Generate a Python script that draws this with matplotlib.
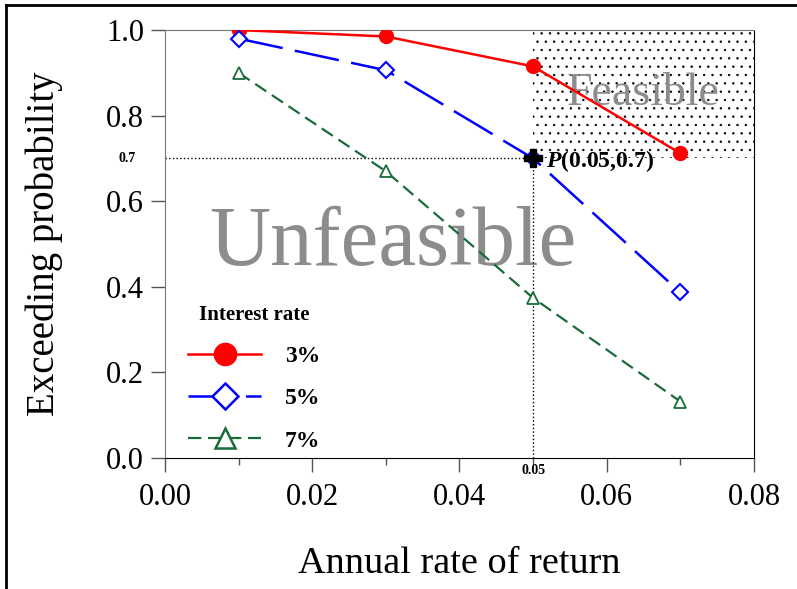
import numpy as np
import matplotlib
matplotlib.use("Agg")
import matplotlib.pyplot as plt
from matplotlib.lines import Line2D

plt.rcParams['font.family'] = ['Liberation Serif', 'DejaVu Serif']
plt.rcParams['mathtext.fontset'] = 'custom'
plt.rcParams['mathtext.rm'] = 'Liberation Serif'
plt.rcParams['mathtext.it'] = 'Liberation Serif:italic:bold'
plt.rcParams['mathtext.bf'] = 'Liberation Serif:bold'
plt.rcParams['hatch.linewidth'] = 0.5

# data
annual_return = [0.01, 0.03, 0.05, 0.07]
prob_3 = [1.0, 0.985, 0.915, 0.712]
prob_5 = [0.98, 0.906, 0.70, 0.387]
prob_7 = [0.90, 0.67, 0.374, 0.132]
labels = ['3%', '5%', '7%']
xticks = [0.00, 0.02, 0.04, 0.06, 0.08]
yticks = [0.0, 0.2, 0.4, 0.6, 0.8, 1.0]
target_x = 0.05
target_y = 0.7

fig = plt.figure(figsize=(7.97, 5.89), dpi=100)
ax = fig.add_axes([0.207, 0.2224, 0.739, 0.7266])

# feasible region
ax.fill_between([target_x, 0.08], target_y, 1.0, facecolor='white',
                edgecolor='black', hatch='..', linewidth=0, zorder=0)

ax.text(0.0650, 0.85, 'Feasible', color='#8c8c8c', fontsize=33,
        ha='center', va='center', zorder=1)
ax.text(0.0310, 0.50, 'Unfeasible', color='#8c8c8c', fontsize=61,
        ha='center', va='center', zorder=1)

# guide lines
ax.plot([0, target_x], [target_y, target_y], color='black', ls=':', lw=1, zorder=2)
ax.plot([target_x, target_x], [0, target_y], color='black', ls=':', lw=1, zorder=2)

ax.plot(annual_return, prob_3, color='red', lw=1.8, marker='o', ms=10,
        markerfacecolor='red', markeredgecolor='red', zorder=4)
ax.plot(annual_return, prob_5, color='blue', lw=1.8, dashes=(18, 5), marker='D', ms=8,
        markerfacecolor='white', markeredgecolor='blue', markeredgewidth=1.5, zorder=4)
ax.plot(annual_return, prob_7, color='#1a6b3a', lw=1.6, dashes=(6, 3), marker='^', ms=9,
        markerfacecolor='white', markeredgecolor='#1a6b3a', markeredgewidth=1.3, zorder=4)

ax.plot([target_x], [target_y], marker='P', color='black', ms=13, zorder=6)
ax.text(0.0518, 0.695, r'$\mathit{P}$(0.05,0.7)', fontsize=17, fontweight='bold',
        ha='left', va='center', zorder=6)

ax.set_xlim(0, 0.08)
ax.set_ylim(0, 1.0)
ax.set_xticks(xticks)
ax.set_xticklabels(['%.2f' % v for v in xticks], fontsize=22)
ax.set_xticks([0.01, 0.03, 0.05, 0.07], minor=True)
ax.set_yticks(yticks)
ax.set_yticklabels(['%.1f' % v for v in yticks], fontsize=22)
ax.tick_params(axis='both', which='major', direction='out', length=10, width=1,
               color='#555555')
ax.tick_params(axis='x', which='major', pad=8)
ax.tick_params(axis='y', which='major', pad=5)
ax.tick_params(axis='x', which='minor', direction='out', length=5, width=1, color='#555555')

for s in ['left', 'top']:
    ax.spines[s].set_color('#777777')
for s in ['bottom', 'right']:
    ax.spines[s].set_color('black')

# small labels for target point
ax.text(-0.004, target_y, '0.7', fontsize=10, fontweight='bold', ha='right', va='center')
ax.text(target_x, -0.015, '0.05', fontsize=10, fontweight='bold', ha='center', va='top')

ax.set_xlabel('Annual rate of return', fontsize=27.5, labelpad=25)
ax.set_ylabel('Exceeding probability', fontsize=28, labelpad=31)

handles = [
    Line2D([], [], color='red', lw=1.8, marker='o', ms=16, markerfacecolor='red'),
    Line2D([], [], color='blue', lw=1.8, dashes=(18, 5), marker='D', ms=13,
           markerfacecolor='white', markeredgewidth=1.8),
    Line2D([], [], color='#1a6b3a', lw=1.6, dashes=(6, 3), marker='^', ms=15,
           markerfacecolor='white', markeredgewidth=1.8),
]
leg = ax.legend(handles, labels, loc='lower left', bbox_to_anchor=(0.003, -0.035),
                frameon=False, title='Interest rate', handlelength=3.1,
                handletextpad=1.0, labelspacing=0.88,
                prop={'weight': 'bold', 'size': 17},
                title_fontproperties={'weight': 'bold', 'size': 15})

# figure border (left and top)
fig.add_artist(Line2D([6 / 797, 6 / 797], [0, 1 - 5 / 589], color='black', lw=2,
                      transform=fig.transFigure))
fig.add_artist(Line2D([6 / 797, 1], [1 - 5 / 589, 1 - 5 / 589], color='black', lw=2,
                      transform=fig.transFigure))

fig.savefig('out.png', dpi=100)
